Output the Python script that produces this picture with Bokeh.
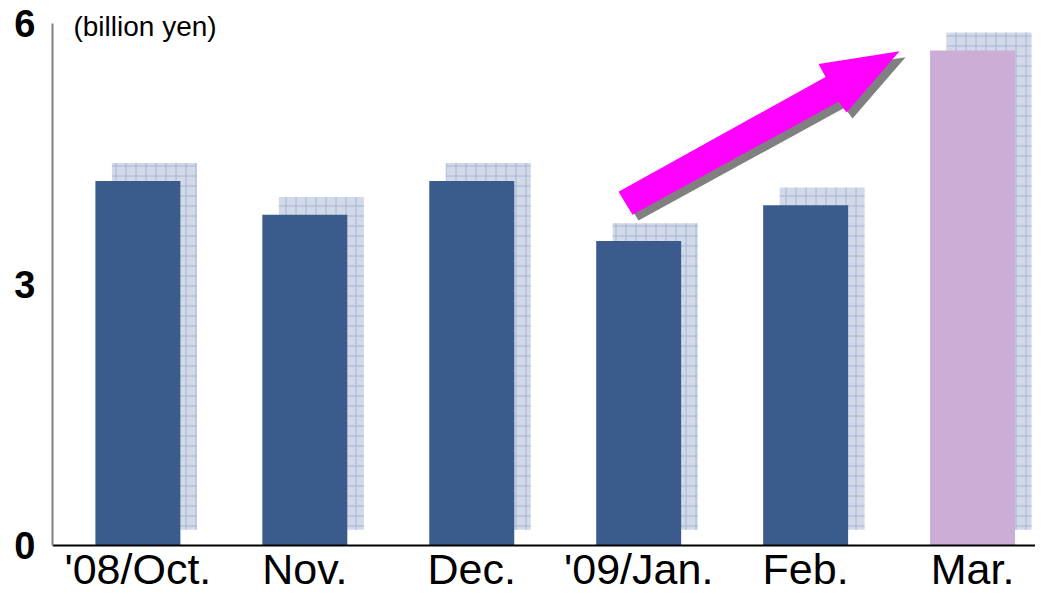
from bokeh.plotting import figure
from bokeh.models import Range1d, FixedTicker, Label, ColumnDataSource
from bokeh.embed import file_html
from bokeh.resources import INLINE

# ---- data ----
months = ["'08/Oct.", "Nov.", "Dec.", "'09/Jan.", "Feb.", "Mar."]
sales = [4.19, 3.80, 4.19, 3.50, 3.91, 5.69]   # billion yen
y_ticks = [0, 3, 6]

# ---- style ----
BAR_COLOR = "#3b5b8d"
HIGHLIGHT = "#cbadd5"
colors = [BAR_COLOR] * (len(months) - 1) + [HIGHLIGHT]
FONT = "Liberation Sans"

idx = list(range(len(months)))

p = figure(width=1035, height=597, output_backend="svg", toolbar_location=None,
           x_range=Range1d(-0.5115, 5.377), y_range=Range1d(-0.598, 6.264),
           min_border_left=52, min_border_right=0, min_border_top=0,
           min_border_bottom=0, tools="")
p.outline_line_color = None
p.xgrid.visible = False
p.ygrid.visible = False
p.background_fill_color = "white"

# shadow (3D offset) bars
dx = 0.099
dy_top = 0.205
dy_bot = 0.182
shadow = ColumnDataSource(dict(x=[i + dx for i in idx],
                               top=[v + dy_top for v in sales],
                               bottom=[dy_bot] * len(sales)))
p.vbar(x="x", top="top", bottom="bottom", width=0.509, source=shadow,
       fill_color="#d2d9e8", line_color=None,
       hatch_pattern="+", hatch_scale=10, hatch_color="#a6b6d3", hatch_weight=1)

src = ColumnDataSource(dict(x=idx, top=sales, color=colors))
p.vbar(x="x", top="top", bottom=0, width=0.509, source=src,
       fill_color="color", line_color=None)

# rising arrow decoration (shape measured on the reference, converted to data units)
def px2d(px, py):
    return (px - 137.5) / 166.9, (550 - py) / 87.83

arrow_px = [(618, 193), (632, 216), (838, 102), (846, 113), (899, 51), (818, 64), (825, 77)]
ax, ay = zip(*[px2d(a, b) for a, b in arrow_px])
sx, sy = zip(*[px2d(a + 6, b + 6) for a, b in arrow_px])
p.patch(list(sx), list(sy), fill_color="#808080", line_color=None)
p.patch(list(ax), list(ay), fill_color="#ff00ff", line_color=None)

# axes
p.xaxis.fixed_location = 0
p.xaxis.ticker = FixedTicker(ticks=idx)
p.xaxis.major_label_overrides = {i: m for i, m in zip(idx, months)}
p.xaxis.major_tick_line_color = None
p.xaxis.minor_tick_line_color = None
p.xaxis.major_tick_out = 0
p.xaxis.major_tick_in = 0
p.xaxis.axis_line_color = "black"
p.xaxis.axis_line_width = 2
p.xaxis.major_label_text_font = FONT
p.xaxis.major_label_text_font_size = "43px"
p.xaxis.major_label_text_color = "black"
p.xaxis.major_label_standoff = 0

p.yaxis.ticker = FixedTicker(ticks=y_ticks)
p.yaxis.bounds = (0, 6)
p.yaxis.major_tick_line_color = None
p.yaxis.minor_tick_line_color = None
p.yaxis.major_tick_out = 0
p.yaxis.major_tick_in = 0
p.yaxis.axis_line_color = "#808080"
p.yaxis.axis_line_width = 2
p.yaxis.major_label_text_font = FONT
p.yaxis.major_label_text_font_style = "bold"
p.yaxis.major_label_text_font_size = "38px"
p.yaxis.major_label_text_color = "black"
p.yaxis.major_label_standoff = 17

unit = Label(x=-0.386, y=5.966, text="(billion yen)", text_font=FONT,
             text_font_size="28px", text_baseline="middle", text_align="left",
             text_color="black")
p.add_layout(unit)

open("out.html", "w").write(file_html(p, INLINE))
